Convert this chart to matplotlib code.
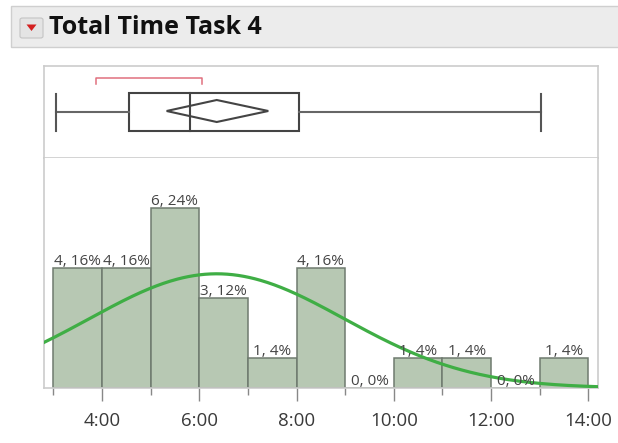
import numpy as np
import matplotlib
matplotlib.use("Agg")
import matplotlib.pyplot as plt
from matplotlib.patches import Rectangle, Polygon, FancyBboxPatch

# ---- data (minutes) ----
title = "Total Time Task 4"
bin_edges = [3, 4, 5, 6, 7, 8, 9, 10, 11, 12, 13, 14]
counts = [4, 4, 6, 3, 1, 4, 0, 1, 1, 0, 1]
tick_values = [4, 6, 8, 10, 12, 14]
tick_labels = ["4:00", "6:00", "8:00", "10:00", "12:00", "14:00"]
box_min, box_q1, box_median, box_q3, box_max = 3.06, 4.56, 5.81, 8.05, 13.03
mean_value = 6.36
mean_ci = (5.33, 7.42)
shortest_half = (3.87, 6.06)
normal_mean, normal_sd = 6.36, 2.62

W, H = 618, 443
fig = plt.figure(figsize=(W / 100, H / 100), dpi=100, facecolor="white")

def fx(px):
    return px / W

def fy(py):
    return 1 - py / H

# header bar
fig.patches.append(Rectangle((fx(11), fy(46.5)), fx(620) - fx(11), fy(6) - fy(46.5),
                             transform=fig.transFigure, facecolor="#ececec",
                             edgecolor="#cfcfcf", linewidth=1.0))
# red triangle button
fig.patches.append(FancyBboxPatch((fx(20), fy(38)), fx(23) - fx(0), fy(18) - fy(38),
                                  boxstyle="round,pad=0,rounding_size=0.004",
                                  transform=fig.transFigure, facecolor="#e4e4e4",
                                  edgecolor="#c4c4c4", linewidth=0.8))
fig.patches.append(Polygon([(fx(26.5), fy(24.5)), (fx(36.5), fy(24.5)), (fx(31.5), fy(31))],
                           closed=True, transform=fig.transFigure,
                           facecolor="#d42020", edgecolor="none"))
fig.text(fx(49), fy(27.5), title, fontsize=18, fontweight="bold", family="Open Sans",
         color="#111111", va="center", ha="left")

xlim = (2.81, 14.19)
frame_col = "#cccccc"

# ---- box plot panel ----
axb = fig.add_axes([fx(44), fy(158), fx(597.7) - fx(44), fy(66) - fy(158)])
axb.set_xlim(*xlim)
axb.set_ylim(0, 1)
axb.set_xticks([])
axb.set_yticks([])
for s in axb.spines.values():
    s.set_color(frame_col)
    s.set_linewidth(1.2)

def by(py):
    return (158 - py) / (158 - 66)

lc = "#555555"
lw = 1.5
axb.plot([box_min, box_q1], [by(112)] * 2, color="#666666", lw=lw)
axb.plot([box_q3, box_max], [by(112)] * 2, color="#666666", lw=lw)
axb.plot([box_min] * 2, [by(94), by(131)], color=lc, lw=lw)
axb.plot([box_max] * 2, [by(94), by(131)], color=lc, lw=lw)
axb.add_patch(Rectangle((box_q1, by(130.7)), box_q3 - box_q1, by(93.3) - by(130.7),
                        facecolor="none", edgecolor="#444444", lw=lw))
axb.plot([box_median] * 2, [by(93.3), by(130.7)], color="#444444", lw=lw)
axb.add_patch(Polygon([(mean_ci[0], by(111)), (mean_value, by(100)),
                       (mean_ci[1], by(111)), (mean_value, by(122))],
                      closed=True, facecolor="none", edgecolor="#444444", lw=lw))
axb.plot([shortest_half[0], shortest_half[0], shortest_half[1], shortest_half[1]],
         [by(84), by(78.3), by(78.3), by(84)], color="#e0707e", lw=1.1)

# ---- histogram panel ----
axh = fig.add_axes([fx(44), fy(388), fx(597.7) - fx(44), fy(158) - fy(388)])
axh.set_xlim(*xlim)
axh.set_ylim(0, (388 - 158) / 30)
total = sum(counts)
lefts = bin_edges[:-1]
widths = np.diff(bin_edges)
axh.bar(lefts, counts, width=widths, align="edge", color="#b7c8b3",
        edgecolor="#6f7a6f", linewidth=1.1, zorder=2)
for l, w, c in zip(lefts, widths, counts):
    axh.text(l + w / 2, c - 0.02, f"{c}, {round(100 * c / total)}%", ha="center",
             va="bottom", fontsize=11, color="#444444", family="Open Sans", zorder=4)
xs = np.linspace(xlim[0], xlim[1], 400)
ys = total * 1.0 / (normal_sd * np.sqrt(2 * np.pi)) * np.exp(-0.5 * ((xs - normal_mean) / normal_sd) ** 2)
axh.plot(xs, ys, color="#3fae45", lw=2.3, zorder=3, clip_on=True)

axh.set_yticks([])
for name in ["top", "right", "left", "bottom"]:
    axh.spines[name].set_color(frame_col)
    axh.spines[name].set_linewidth(1.2)
axh.spines["top"].set_visible(False)
axh.set_xticks(tick_values)
axh.set_xticklabels(tick_labels, family="Open Sans", fontsize=13.5, color="#3a3a3a")
axh.set_xticks([v for v in bin_edges if v not in tick_values], minor=True)
axh.tick_params(axis="x", which="major", length=9, width=1.0, color="#888888", pad=8)
axh.tick_params(axis="x", which="minor", length=5, width=1.0, color="#888888")

fig.savefig("out.png", dpi=100, facecolor="white")
